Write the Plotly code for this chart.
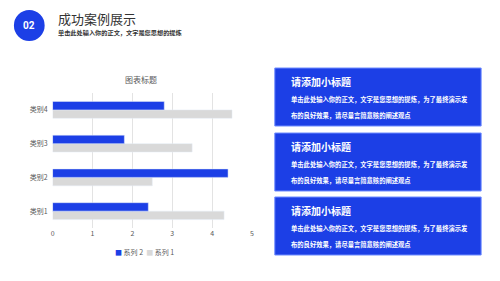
import plotly.graph_objects as go

categories = ["类别1", "类别2", "类别3", "类别4"]
series1 = [4.3, 2.5, 3.5, 4.5]
series2 = [2.4, 4.4, 1.8, 2.8]
series_names = ["系列 1", "系列 2"]
x_ticks = [0, 1, 2, 3, 4, 5]

W, H = 500, 281
BLUE = "#1c3fe6"
GRAY = "#d9d9d9"
FONT = "Noto Sans CJK SC"

def px(x):
    return x / W

def py(y):
    return 1 - y / H

fig = go.Figure()
fig.add_trace(go.Bar(y=categories, x=series1, orientation="h", name=series_names[0],
                     marker=dict(color=GRAY)))
fig.add_trace(go.Bar(y=categories, x=series2, orientation="h", name=series_names[1],
                     marker=dict(color=BLUE)))

shapes = []
annotations = []

def ann(text, x, y, size, color, xanchor="left", family=FONT):
    annotations.append(dict(text=text, x=px(x), y=py(y), xref="paper", yref="paper",
                            xanchor=xanchor, yanchor="middle", showarrow=False,
                            font=dict(family=family, size=size, color=color)))

# header circle
shapes.append(dict(type="circle", xref="paper", yref="paper",
                   x0=px(12), x1=px(43), y0=py(41), y1=py(10),
                   fillcolor=BLUE, line=dict(width=0)))
ann("<b>02</b>", 27.5, 25.5, 10, "white", xanchor="center", family="Roboto")
ann("成功案例展示", 54, 18, 13, "#333333")
ann("<b>单击此处输入你的正文，文字是您思想的提炼</b>", 54, 33, 6.2, "#333333")

# chart title
ann("图表标题", 140, 80, 8, "#595959", xanchor="center")

# legend (compact, as text)
legend_text = (f"<span style='color:{BLUE}'>■</span> {series_names[1]}  "
               f"<span style='color:{GRAY}'>■</span> {series_names[0]}")
ann(legend_text, 144, 252, 7, "#595959", xanchor="center")

# right boxes
boxes = [(68, 126), (133, 191), (197, 255)]
for (y0, y1) in boxes:
    shapes.append(dict(type="rect", xref="paper", yref="paper",
                       x0=px(275), x1=px(483), y0=py(y1), y1=py(y0),
                       fillcolor=BLUE, line=dict(color="#6f8cff", width=1)))
    ann("<b>请添加小标题</b>", 289, y0 + 13, 10, "white")
    ann("<b>单击此处输入你的正文，文字是您思想的提炼，为了最终演示发</b>", 289, y0 + 31, 6.3, "white")
    ann("<b>布的良好效果，请尽量言简意赅的阐述观点</b>", 289, y0 + 47, 6.3, "white")

fig.update_layout(
    width=W, height=H,
    margin=dict(l=0, r=0, t=0, b=0),
    paper_bgcolor="white", plot_bgcolor="white",
    barmode="group", bargap=0.5, bargroupgap=0,
    showlegend=False,
    xaxis=dict(domain=[px(51), px(252)], range=[0, 5], tickvals=x_ticks,
               showgrid=True, gridcolor="#e3e3e3", gridwidth=1, zeroline=False,
               showline=False, ticks="",
               tickfont=dict(family=FONT, size=7, color="#595959")),
    yaxis=dict(domain=[py(228), py(93)], showgrid=False, zeroline=False,
               showline=False, ticks="", ticklabelstandoff=4,
               tickfont=dict(family=FONT, size=7, color="#595959")),
    shapes=shapes,
    annotations=annotations,
)

fig.write_html("out.html")
